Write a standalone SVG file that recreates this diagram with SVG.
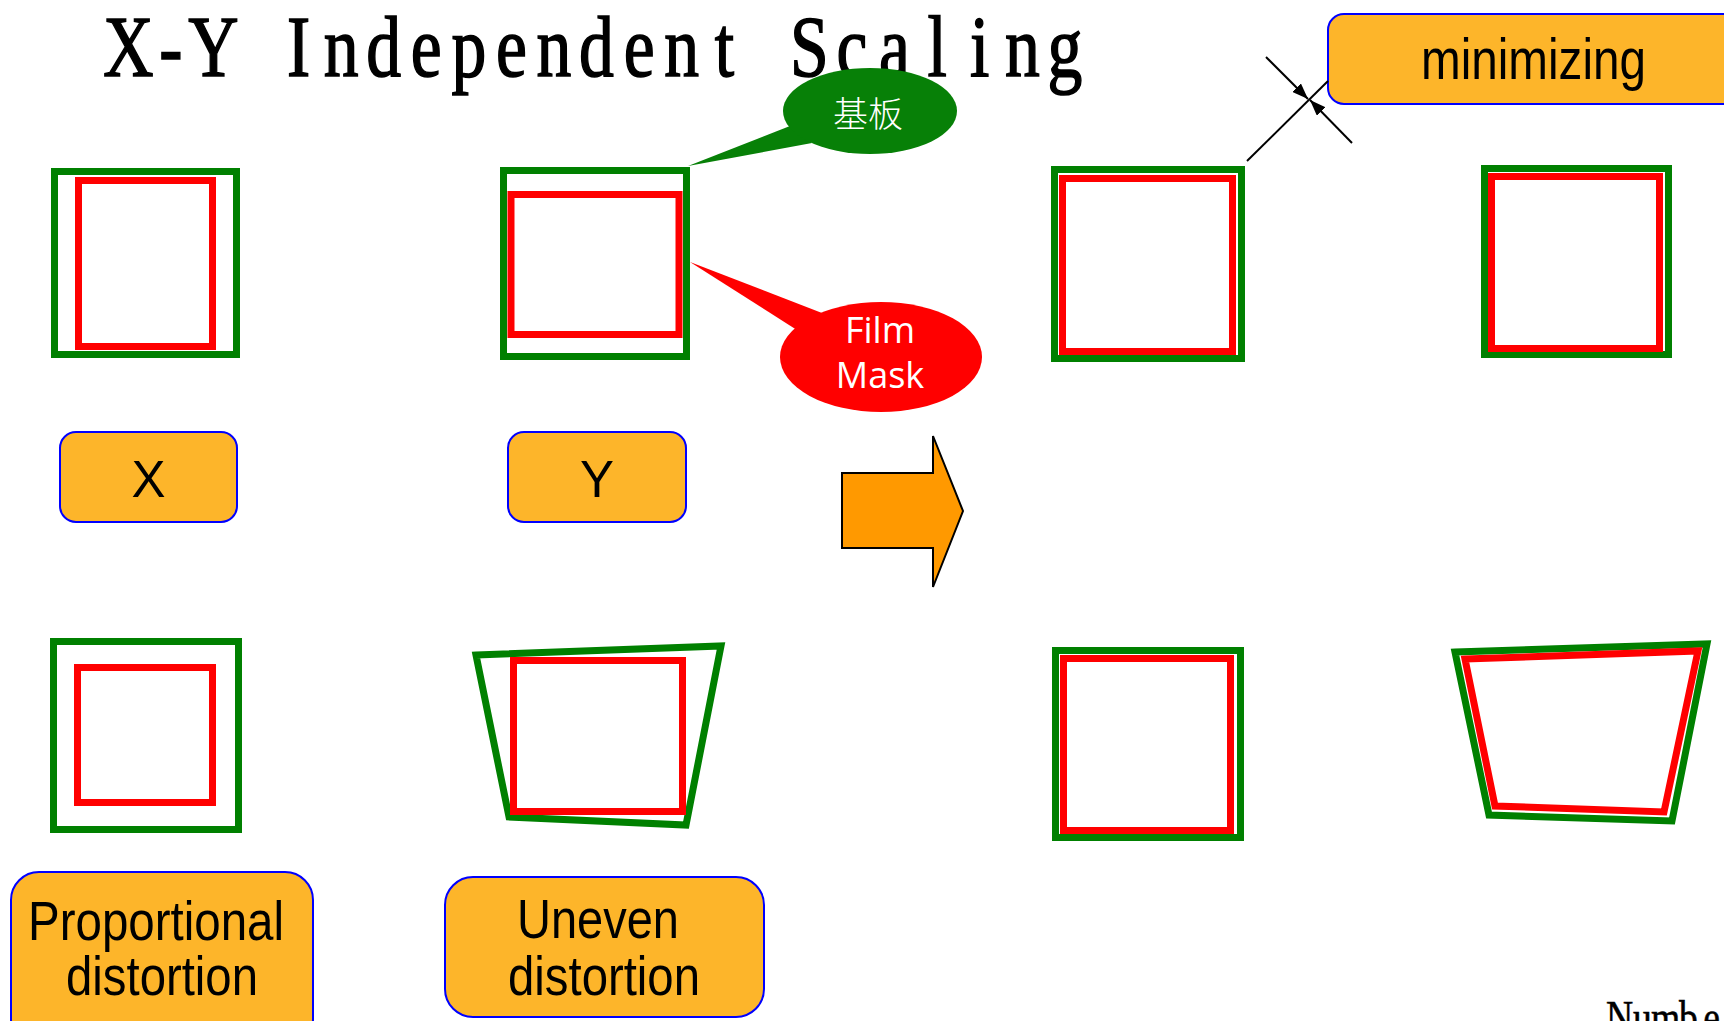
<svg xmlns="http://www.w3.org/2000/svg" width="1724" height="1021" viewBox="0 0 1724 1021">
<defs>
<style>
.g{fill:none;stroke:#008000;stroke-width:7}
.r{fill:none;stroke:#FF0000;stroke-width:7}
.box{fill:#FDB52A;stroke:#0000FF;stroke-width:2}
.lbl{font-family:"Liberation Sans",Arial,sans-serif;fill:#000}
.ser{font-family:"Liberation Serif","Times New Roman",serif;fill:#000;stroke:#000}
.co{font-family:"Open Sans","DejaVu Sans",sans-serif;fill:#fff}
.dim{stroke:#000;stroke-width:2;fill:none}
</style>
<marker id="ah" viewBox="0 0 16 12" refX="16" refY="6" markerWidth="16" markerHeight="12" markerUnits="userSpaceOnUse" orient="auto">
<path d="M0,0 L16,6 L0,12 z" fill="#000"/>
</marker>
</defs>
<rect width="1724" height="1021" fill="#fff"/>
<text id="title" class="ser" stroke-width="1.6" transform="scale(0.8 1)" y="76" font-size="87" text-anchor="middle" x="160.4 213.5 266.8 320 373.1 426.4 479.6 532.9 586 639.3 692.5 745.6 798.9 852.1 905.4 958.5 1011.8 1065 1118.1 1171.4 1224.6 1277.9 1331">X-Y Independent Scaling</text>

<g id="pairA"><rect class="g" x="54.5" y="171.5" width="182" height="183"/><rect class="r" x="78.5" y="180.5" width="134" height="166"/></g>
<g id="pairB"><rect class="g" x="503.5" y="170.5" width="183" height="186"/><rect class="r" x="511" y="194.5" width="168" height="140"/></g>
<g id="pairC"><rect class="g" x="1054.5" y="169.5" width="187" height="189"/><rect class="r" x="1062.5" y="178.5" width="170" height="173"/></g>
<g id="pairD"><rect class="g" x="1484.5" y="168.5" width="184" height="186"/><rect class="r" x="1491.5" y="176.5" width="168" height="172"/></g>
<g id="pairE"><rect class="g" x="53.5" y="641.5" width="185" height="188"/><rect class="r" x="77.5" y="667.5" width="135" height="135"/></g>
<g id="pairF"><polygon class="g" points="476,655 721,646 686,825 509,817"/><rect class="r" x="513.5" y="660.5" width="169" height="151"/></g>
<g id="pairG"><rect class="g" x="1055.5" y="650.5" width="185" height="187"/><rect class="r" x="1063.5" y="658.5" width="167" height="172"/></g>
<g id="pairH"><polygon class="g" points="1455,652 1707,644 1672,821 1489,815"/><polygon class="r" points="1465,659 1698,651 1664,812 1495,806"/></g>

<g id="callout-substrate">
<polygon points="790,126 688,166 812,143" fill="#078007"/>
<ellipse cx="870" cy="111" rx="87" ry="43" fill="#078007"/>
<text x="868" y="127" font-size="35" text-anchor="middle" fill="#fff" font-weight="300" font-family="'Noto Sans CJK SC','Noto Sans CJK JP',sans-serif">基板</text>
</g>
<g id="callout-film">
<polygon points="822,313 690,262 800,332" fill="#FF0000"/>
<ellipse cx="881" cy="357" rx="101" ry="55" fill="#FF0000"/>
<text class="co" x="880" y="343" font-size="36" text-anchor="middle">Film</text>
<text class="co" x="880" y="388" font-size="36" text-anchor="middle">Mask</text>
</g>

<g id="labelX"><rect class="box" x="60" y="432" width="177" height="90" rx="16"/><text class="lbl" x="148.5" y="497" font-size="51" text-anchor="middle">X</text></g>
<g id="labelY"><rect class="box" x="508" y="432" width="178" height="90" rx="16"/><text class="lbl" x="597" y="497" font-size="51" text-anchor="middle">Y</text></g>
<g id="labelMin"><rect class="box" x="1328" y="14" width="420" height="90" rx="16"/><text class="lbl" x="1421" y="79" font-size="57" textLength="225" lengthAdjust="spacingAndGlyphs">minimizing</text></g>
<g id="labelProp"><rect class="box" x="11" y="872" width="302" height="175" rx="28"/>
<text class="lbl" x="156" y="940" font-size="56" text-anchor="middle" textLength="256" lengthAdjust="spacingAndGlyphs">Proportional</text>
<text class="lbl" x="162" y="995" font-size="56" text-anchor="middle" textLength="192" lengthAdjust="spacingAndGlyphs">distortion</text></g>
<g id="labelUneven"><rect class="box" x="445" y="877" width="319" height="140" rx="28"/>
<text class="lbl" x="598" y="938" font-size="56" text-anchor="middle" textLength="162" lengthAdjust="spacingAndGlyphs">Uneven</text>
<text class="lbl" x="604" y="995" font-size="56" text-anchor="middle" textLength="192" lengthAdjust="spacingAndGlyphs">distortion</text></g>

<g id="bigArrow"><polygon points="842,473 933,473 933,436 963,511 933,587 933,548 842,548" fill="#FF9900" stroke="#000" stroke-width="2"/></g>

<g id="connectors">
<line class="dim" x1="1247" y1="161" x2="1328" y2="81"/>
<line class="dim" x1="1266" y1="57" x2="1308" y2="99" marker-end="url(#ah)"/>
<line class="dim" x1="1352" y1="143" x2="1310" y2="100" marker-end="url(#ah)"/>
</g>

<text id="pagenum" class="ser" stroke-width="0.6" transform="scale(0.8 1)" y="1033" font-size="47" text-anchor="middle" x="2024.4 2053.1 2081.9 2110.6 2139.4 2168.1">Number</text>
</svg>
